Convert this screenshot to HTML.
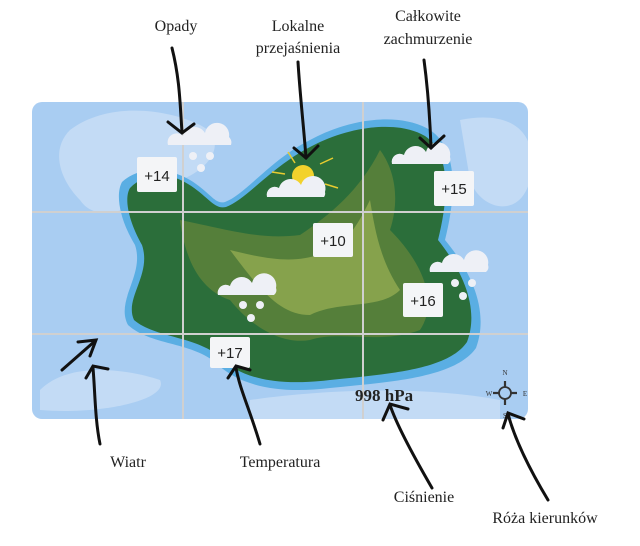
<!DOCTYPE html>
<html><head><style>
body{margin:0;background:#fff;}
svg{display:block;}
text{font-family:"Liberation Serif",serif;}
</style></head><body>
<svg width="640" height="546" viewBox="0 0 640 546" xmlns="http://www.w3.org/2000/svg">
<defs><clipPath id="c"><rect x="32" y="102" width="496" height="317" rx="10"/></clipPath></defs>
<g clip-path="url(#c)">
<rect x="32" y="102" width="496" height="317" fill="#a9cdf2"/>
<path d="M70 130 C110 100 170 110 200 125 C230 140 210 170 180 180 C150 200 100 230 80 200 C60 180 50 150 70 130Z" fill="#c3dbf5"/>
<path d="M460 120 C510 110 540 130 530 180 C520 220 480 210 470 180Z" fill="#c3dbf5"/>
<path d="M40 390 C70 360 130 370 160 380 C170 400 100 415 40 410Z" fill="#c3dbf5"/>
<path d="M250 400 C320 390 420 385 500 400 L500 420 L250 420Z" fill="#c3dbf5"/>
<path d="M122 182 C140 165 170 168 190 180 C210 192 215 205 225 202 C245 195 270 160 310 140 C350 118 400 112 430 130 C460 150 455 200 445 240 C470 270 490 310 476 348 C455 378 390 382 330 388 C280 394 240 387 215 362 C190 342 150 345 128 325 C115 300 145 275 135 245 C120 220 115 195 122 182Z" fill="#5aaee3"/>
<path d="M130 188 C145 172 170 172 188 184 C208 196 214 210 226 207 C246 200 272 166 312 146 C350 126 398 120 425 136 C452 154 448 200 438 240 C462 270 480 308 467 342 C448 370 388 374 330 380 C280 386 242 380 220 357 C196 336 155 338 134 320 C124 298 152 275 142 245 C128 220 124 198 130 188Z" fill="#2b6e3a"/>
<path d="M180 220 C230 230 260 240 300 235 C330 215 360 190 380 150 C395 170 400 200 390 230 C420 260 440 300 420 330 C380 345 340 330 310 340 C280 345 250 325 230 300 C200 290 185 260 180 220Z" fill="#557f3a"/>
<path d="M230 250 C270 260 300 265 330 250 C350 240 360 220 370 200 C375 230 380 260 400 290 C380 310 340 300 310 315 C280 315 260 290 230 250Z" fill="#86a24c"/>
<g stroke="#d0d0d0" stroke-width="2">
<line x1="183" y1="102" x2="183" y2="419"/><line x1="363" y1="102" x2="363" y2="419"/>
<line x1="32" y1="212" x2="528" y2="212"/><line x1="32" y1="334" x2="528" y2="334"/>
</g>
</g>
<g fill="#eef0f6">
<path d="M168 145 a9 9 0 0 1 15 -9 a12 12 0 0 1 22 -3 a12 12 0 0 1 24 4 a8 8 0 0 1 2 8Z"/>
<path d="M392 164 a8 8 0 0 1 12 -9 a12 12 0 0 1 22 -3 a12 12 0 0 1 24 5 a6 6 0 0 1 -2 7Z"/>
<path d="M430 272 a8 8 0 0 1 12 -9 a12 12 0 0 1 22 -3 a12 12 0 0 1 24 5 a6 6 0 0 1 -2 7Z"/>
<path d="M218 295 a8 8 0 0 1 12 -9 a12 12 0 0 1 22 -3 a12 12 0 0 1 24 5 a6 6 0 0 1 -2 7Z"/>
</g>
<circle cx="303" cy="176" r="11" fill="#f2d22c"/>
<path d="M267 197 a8 8 0 0 1 12 -9 a12 12 0 0 1 22 -3 a12 12 0 0 1 24 7 a6 6 0 0 1 -1 5Z" fill="#eef0f6"/>
<g stroke="#e8cc30" stroke-width="1.5"><line x1="288" y1="152" x2="295" y2="163"/><line x1="272" y1="172" x2="285" y2="174"/><line x1="320" y1="164" x2="333" y2="158"/><line x1="325" y1="184" x2="338" y2="188"/></g>
<g fill="#eef0f6">
<circle cx="193" cy="156" r="4"/><circle cx="210" cy="156" r="4"/><circle cx="201" cy="168" r="4"/>
<circle cx="243" cy="305" r="4"/><circle cx="260" cy="305" r="4"/><circle cx="251" cy="318" r="4"/>
<circle cx="455" cy="283" r="4"/><circle cx="472" cy="283" r="4"/><circle cx="463" cy="296" r="4"/>
</g>
<g fill="#f4f5f7">
<rect x="137" y="157" width="40" height="35" rx="2"/><rect x="434" y="171" width="40" height="35" rx="2"/>
<rect x="313" y="223" width="40" height="34" rx="2"/><rect x="403" y="283" width="40" height="34" rx="2"/>
<rect x="210" y="337" width="40" height="31" rx="2"/>
</g>
<g font-size="15" fill="#222" text-anchor="middle">
<text x="157" y="181" style="font-family:'Liberation Sans',sans-serif">+14</text>
<text x="454" y="194" style="font-family:'Liberation Sans',sans-serif">+15</text>
<text x="333" y="246" style="font-family:'Liberation Sans',sans-serif">+10</text>
<text x="423" y="306" style="font-family:'Liberation Sans',sans-serif">+16</text>
<text x="230" y="358" style="font-family:'Liberation Sans',sans-serif">+17</text>
</g>
<text x="355" y="401" font-size="17" font-weight="bold" fill="#222">998 hPa</text>
<g stroke="#333" fill="none"><circle cx="505" cy="393" r="6" stroke-width="1.8"/><path d="M505 381v6M505 399v6M493 393h6M511 393h6" stroke-width="2.2"/></g>
<g font-size="7" fill="#333" text-anchor="middle"><text x="505" y="375">N</text><text x="489" y="396">W</text><text x="525" y="396">E</text><text x="505" y="418">S</text></g>
<g stroke="#111" stroke-width="3" fill="none" stroke-linecap="round">
<path d="M172 48 C180 80 180 105 182 132"/><path d="M168 122 L182 133 L194 124"/>
<path d="M298 62 C300 95 304 130 306 158"/><path d="M294 148 L306 158 L318 146"/>
<path d="M424 60 C428 90 430 120 431 148"/><path d="M420 138 L431 148 L444 136"/>
<path d="M100 444 C95 420 95 390 93 368"/><path d="M86 378 L93 366 L108 369"/>
<path d="M62 370 L95 341"/><path d="M78 342 L96 340 L90 356"/>
<path d="M260 444 C250 410 240 390 236 368"/><path d="M228 378 L236 366 L250 370"/>
<path d="M432 488 C410 450 395 420 390 405"/><path d="M383 420 L390 404 L408 409"/>
<path d="M548 500 C530 470 515 440 508 414"/><path d="M503 428 L508 413 L524 419"/>
</g>
<g font-size="16" fill="#222" text-anchor="middle">
<text x="176" y="31">Opady</text>
<text x="298" y="31">Lokalne</text><text x="298" y="53">przejaśnienia</text>
<text x="428" y="21">Całkowite</text><text x="428" y="44">zachmurzenie</text>
<text x="128" y="467">Wiatr</text>
<text x="280" y="467">Temperatura</text>
<text x="424" y="502">Ciśnienie</text>
<text x="545" y="523">Róża kierunków</text>
</g>
</svg>
</body></html>
